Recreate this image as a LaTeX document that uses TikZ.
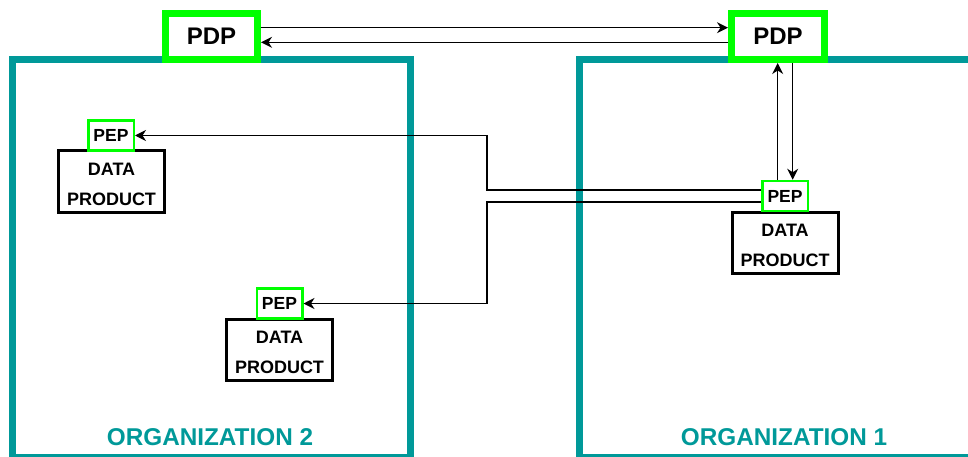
\documentclass[tikz,border=0pt]{standalone}
\usepackage{fontspec}
\setmainfont{Liberation Sans}
\usetikzlibrary{calc,arrows.meta}
\definecolor{teal2}{HTML}{009999}
\definecolor{lime2}{HTML}{00FF00}
\tikzset{
  orgbox/.style={draw=teal2,line width=7pt},
  orglabel/.style={text=teal2,font=\bfseries\fontsize{24.3}{28}\selectfont,inner sep=0pt},
  pdpbox/.style={draw=lime2,fill=white,line width=7pt,minimum width=92pt,minimum height=46pt,inner sep=0pt,font=\bfseries\fontsize{24}{28}\selectfont},
  pepbox/.style={draw=lime2,fill=white,line width=2.5pt,minimum width=45.5pt,minimum height=30pt,inner sep=0pt,font=\bfseries\fontsize{17.5}{20}\selectfont},
  dptext/.style={align=center,inner sep=0pt,yshift=-2.5pt,font=\bfseries\fontsize{18}{30}\selectfont},
  dpbox/.style={draw=black,fill=white,line width=3pt,minimum width=106pt,minimum height=61pt,inner sep=0pt,
    label={[dptext]center:DATA\\PRODUCT}},
  arr/.style={draw=black,line width=1.3pt,-{Stealth[length=11pt,width=11pt,inset=3.5pt]}}
}
\begin{document}
\begin{tikzpicture}[x=1pt,y=-1pt]
\useasboundingbox (0,0) rectangle (968,457);
\clip (0,0) rectangle (968,457);
\fill[white] (0,0) rectangle (968,457);
% organization boxes
\draw[orgbox] (12.5,59.5) rectangle (410.5,457);
\draw[orgbox] (579,59.5) rectangle (990,457);
\node[orglabel] (org2) at (210,437) {ORGANIZATION 2};
\node[orglabel] (org1) at (784,437) {ORGANIZATION 1};
% PDPs
\node[pdpbox] (pdpL) at (211.5,36.5) {PDP};
\node[pdpbox,minimum width=93pt] (pdpR) at (778,36.5) {PDP};
% data products
\node[dpbox] (dp1) at (785,243) {};
\node[dpbox] (dp2) at (111.5,181.5) {};
\node[dpbox] (dp3) at (279.5,350) {};
% PEPs
\node[pepbox] (pep1) at (785,196) {PEP};
\node[pepbox] (pep2) at (111,135.5) {PEP};
\node[pepbox] (pep3) at (279.5,303.5) {PEP};
% PDP <-> PDP
\draw[arr] ($(pdpL.east)+(0,-8.8)$) -- ($(pdpR.west)+(0,-8.8)$);
\draw[arr] ($(pdpR.west)+(0,5.8)$) -- ($(pdpL.east)+(0,5.8)$);
% PEP <-> PDP (org 1)
\coordinate (u1) at ($(pep1.north)+(-7.3,0)$);
\coordinate (d1) at ($(pep1.north)+(7.7,0)$);
\draw[arr] (u1) -- (u1 |- pdpR.south);
\draw[arr] (d1 |- pdpR.south) -- (d1);
% PEP org1 -> PEPs org2
\coordinate (bend) at (487,0);
\coordinate (s1) at ($(pep1.west)+(0,-6)$);
\coordinate (s2) at ($(pep1.west)+(0,6)$);
\draw[arr] (s1) -- (s1 -| bend) |- (pep2.east);
\draw[arr] (s2) -- (s2 -| bend) |- (pep3.east);
\end{tikzpicture}
\end{document}
